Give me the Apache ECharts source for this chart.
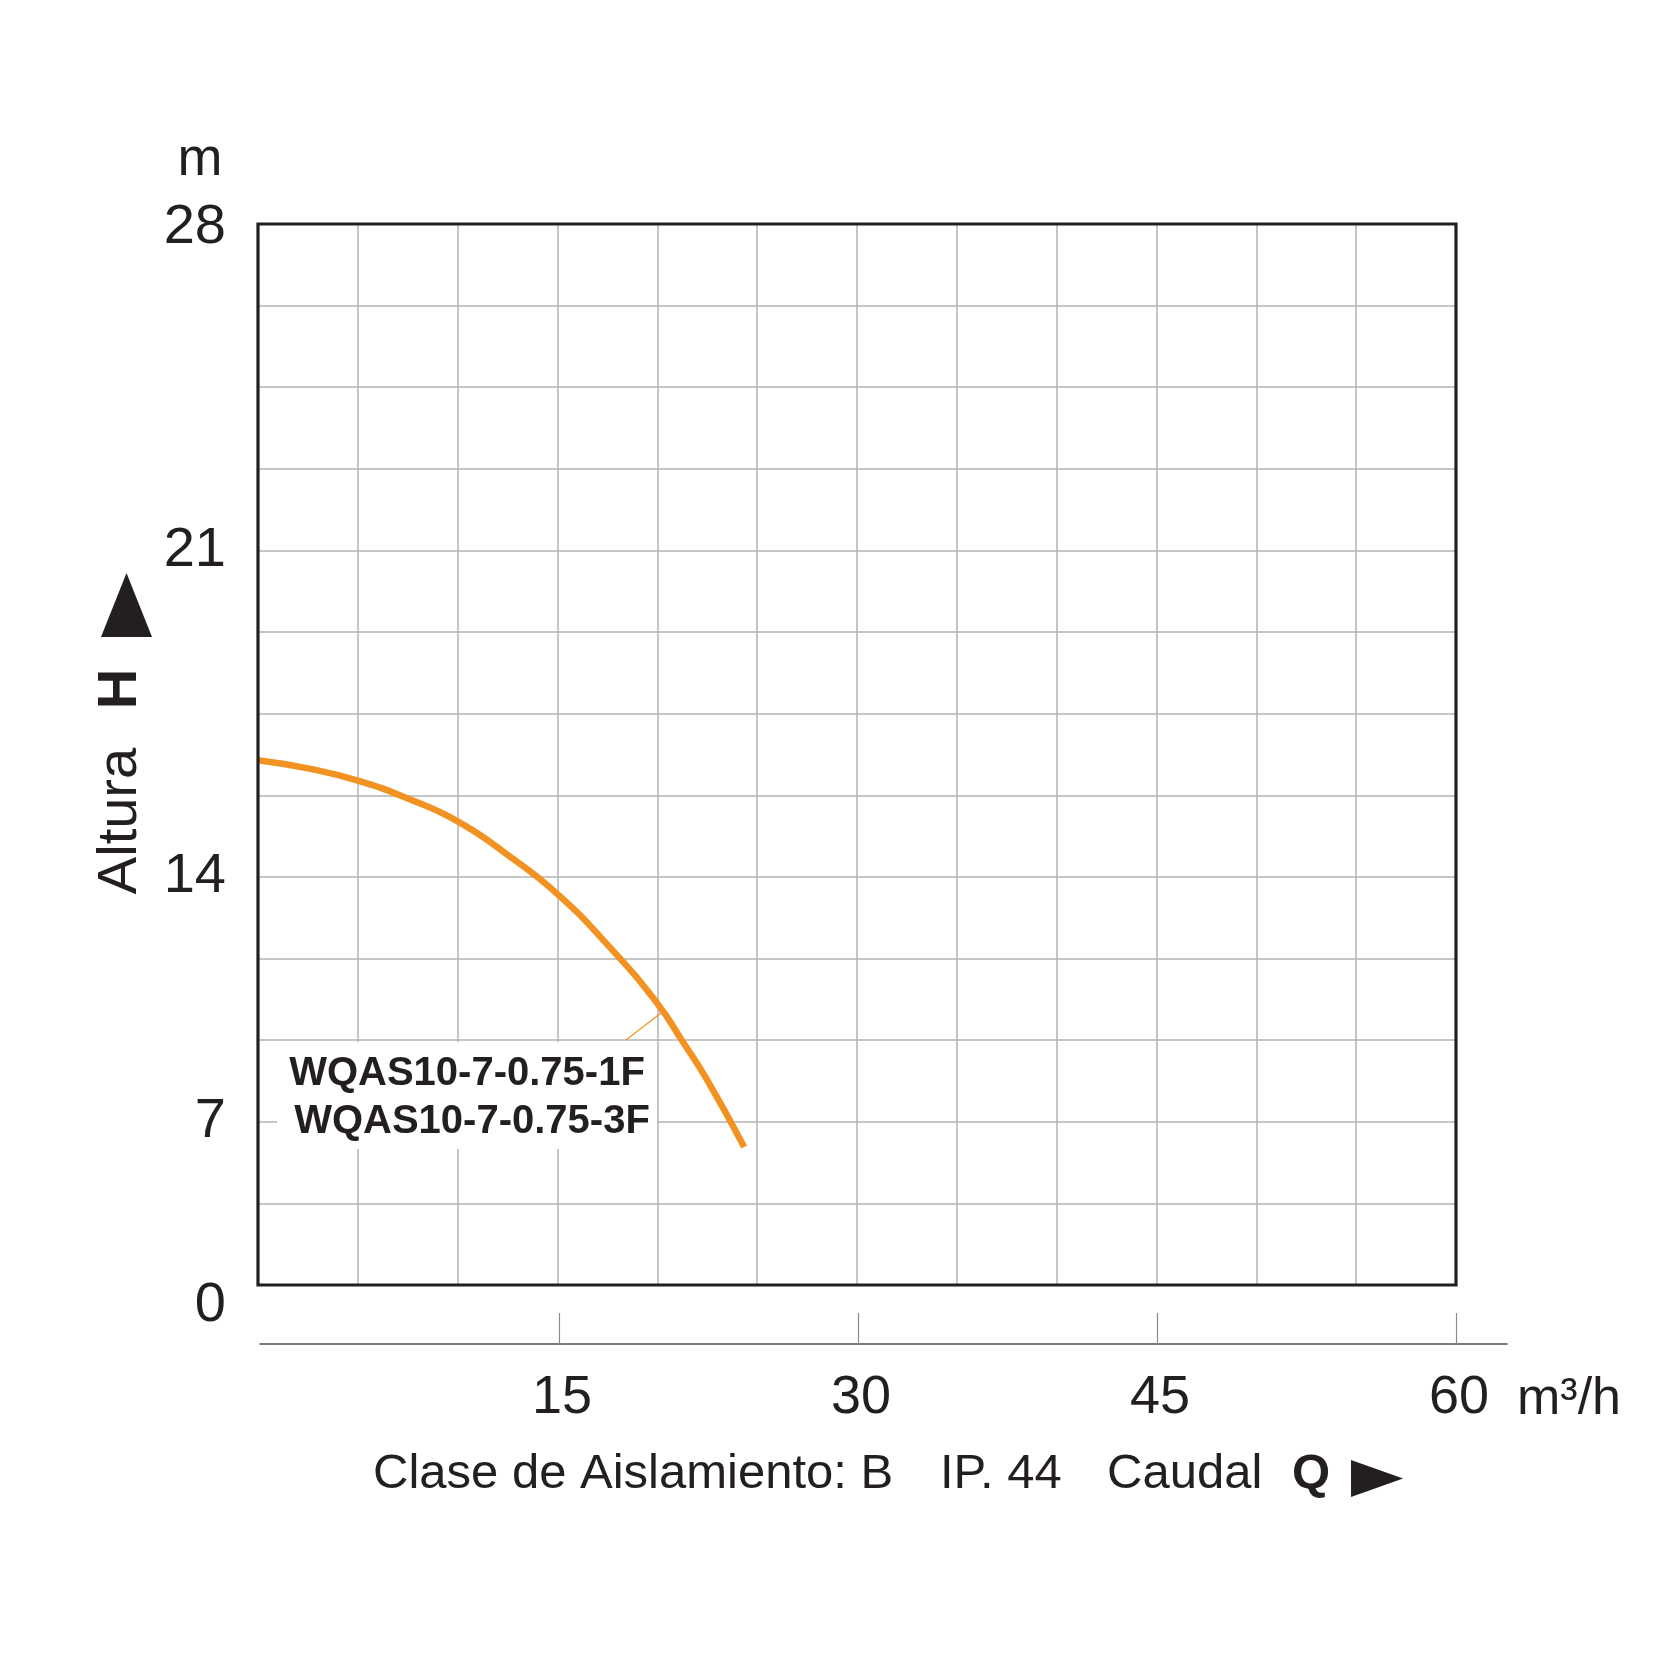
<!DOCTYPE html>
<html>
<head>
<meta charset="utf-8">
<script src="https://cdn.jsdelivr.net/npm/echarts@6/dist/echarts.min.js"></script>
<style>
    html, body {margin:0; padding:0; background:#fff;}
    #chart {width:1667px; height:1667px;}
</style>
</head>
<body>
<div id="chart"></div>
<script>
// caudal Q (m3/h)
var flowQ = [0, 2.5, 5, 7.5, 10, 12.5, 15, 17.5, 20, 21.25, 22.5, 24.35];
// altura H, read in grid rows of the sheet (13 rows, labels sit on rows 0/2/5/9/13)
var headRow = [6.43, 6.33, 6.18, 5.96, 5.68, 5.27, 4.79, 4.17, 3.45, 2.99, 2.51, 1.69];

var yTickRows = [0, 2, 5, 9, 13];
var yTickText = ['0', '7', '14', '21', '28'];
var xTickValues = [15, 30, 45, 60];

var modelNames = ['WQAS10-7-0.75-1F', 'WQAS10-7-0.75-3F'];

var FONT = '"Liberation Sans", Arial, Helvetica, sans-serif';
var INK = '#231f20';
var ORANGE = '#f29222';

// plot box (px)
var PL = 258, PR = 1456, PT = 224, PB = 1285;

var myChart = echarts.init(document.getElementById('chart'));

var curve = [];
for (var i = 0; i < flowQ.length; i++) {
    curve.push([flowQ[i], headRow[i]]);
}

var option = {
    backgroundColor: '#ffffff',
    animation: false,
    textStyle: {fontFamily: FONT, color: INK},
    grid: [
        {left: PL, right: 1667 - PR, top: PT, height: PB - PT},
        {left: 260, right: 160, top: 1344, height: 0}
    ],
    xAxis: [
        {
            gridIndex: 0, type: 'value', min: 0, max: 60, interval: 5,
            axisLine: {show: false}, axisTick: {show: false}, axisLabel: {show: false},
            splitLine: {show: true, lineStyle: {color: '#b3b3b3', width: 1.5}}
        },
        {
            gridIndex: 1, type: 'value', min: 0, max: 62.56,
            axisLine: {show: true, onZero: false, lineStyle: {color: '#4d4d4d', width: 1.6}},
            axisTick: {show: true, inside: true, length: 31, customValues: xTickValues,
                lineStyle: {color: '#8a8a8a', width: 1.2}},
            axisLabel: {show: true, customValues: xTickValues, margin: 27,
                fontSize: 54, color: INK, fontFamily: FONT, padding: [0, 0, 0, 6]},
            splitLine: {show: false}
        }
    ],
    yAxis: [
        {
            gridIndex: 0, type: 'value', min: 0, max: 13, interval: 1,
            axisLine: {show: false}, axisTick: {show: false},
            axisLabel: {
                show: true, margin: 32, fontSize: 56, color: INK, fontFamily: FONT,
                formatter: function (v) {
                    var k = yTickRows.indexOf(Math.round(v));
                    if (k < 0) return '';
                    if (k === 0) return '{lo|' + yTickText[k] + '}';
                    if (k === 4) return '{top|' + yTickText[k] + '}';
                    return yTickText[k];
                },
                rich: {
                    lo: {fontSize: 56, color: INK, fontFamily: FONT, padding: [42, 0, 0, 0]},
                    top: {fontSize: 56, color: INK, fontFamily: FONT, padding: [8, 0, 0, 0]}
                }
            },
            splitLine: {show: true, lineStyle: {color: '#b3b3b3', width: 1.5}}
        },
        {gridIndex: 1, type: 'value', show: false}
    ],
    series: [
        {
            name: 'H-Q',
            type: 'line',
            xAxisIndex: 0, yAxisIndex: 0,
            data: curve,
            smooth: true,
            showSymbol: false,
            symbol: 'none',
            z: 5,
            lineStyle: {color: ORANGE, width: 6.5, cap: 'butt'}
        }
    ],
    graphic: [
        // marco del diagrama
        {type: 'rect', z: 20, shape: {x: PL, y: PT, width: PR - PL, height: PB - PT},
            style: {fill: 'none', stroke: INK, lineWidth: 3.2}},

        // caja blanca de la leyenda
        {type: 'rect', z: 1, shape: {x: 277, y: 1042, width: 380, height: 107}, style: {fill: '#ffffff'}},
        {type: 'line', z: 2, shape: {x1: 626, y1: 1040, x2: 661, y2: 1013}, style: {stroke: ORANGE, lineWidth: 1.2}},
        {type: 'text', z: 6, x: 467, y: 1074, style: {text: modelNames[0], font: 'bold 40px ' + FONT, fill: INK, align: 'center', verticalAlign: 'middle'}},
        {type: 'text', z: 6, x: 472, y: 1122, style: {text: modelNames[1], font: 'bold 40px ' + FONT, fill: INK, align: 'center', verticalAlign: 'middle'}},

        // unidad eje y
        {type: 'text', x: 200, y: 160, style: {text: 'm', font: '54px ' + FONT, fill: INK, align: 'center', verticalAlign: 'middle'}},
        // titulo eje y (vertical)
        {type: 'text', x: 121, y: 821, rotation: Math.PI / 2, style: {text: 'Altura', font: '56px ' + FONT, fill: INK, align: 'center', verticalAlign: 'middle'}},
        {type: 'text', x: 121, y: 689, rotation: Math.PI / 2, style: {text: 'H', font: 'bold 56px ' + FONT, fill: INK, align: 'center', verticalAlign: 'middle'}},
        {type: 'polygon', shape: {points: [[101, 637], [152, 637], [126.5, 573]]}, style: {fill: INK}},

        // unidad eje x
        {type: 'text', x: 1517, y: 1400, style: {text: 'm³/h', font: '52px ' + FONT, fill: INK, align: 'left', verticalAlign: 'middle'}},

        // pie
        {type: 'text', x: 373, y: 1474, style: {text: 'Clase de Aislamiento: B', font: '49px ' + FONT, fill: INK, align: 'left', verticalAlign: 'middle'}},
        {type: 'text', x: 940, y: 1474, style: {text: 'IP. 44', font: '49px ' + FONT, fill: INK, align: 'left', verticalAlign: 'middle'}},
        {type: 'text', x: 1107, y: 1474, style: {text: 'Caudal', font: '49px ' + FONT, fill: INK, align: 'left', verticalAlign: 'middle'}},
        {type: 'text', x: 1292, y: 1474, style: {text: 'Q', font: 'bold 49px ' + FONT, fill: INK, align: 'left', verticalAlign: 'middle'}},
        {type: 'polygon', shape: {points: [[1351, 1460], [1351, 1497], [1403, 1478.5]]}, style: {fill: INK}}
    ]
};

myChart.setOption(option);
</script>
</body>
</html>
